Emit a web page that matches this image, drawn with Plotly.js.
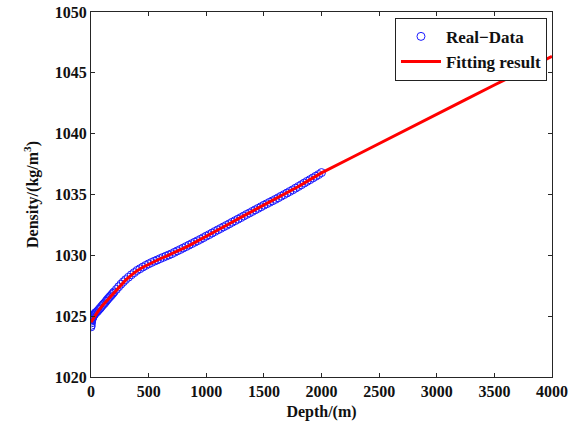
<!DOCTYPE html>
<html>
<head>
<meta charset="utf-8">
<script src="https://cdn.plot.ly/plotly-3.0.1.min.js"></script>
<style>html,body{margin:0;padding:0;background:#fff;}#chart{width:582px;height:422px;}</style>
</head>
<body>
<div id="chart"></div>
<script>
// Real data (depth in m, density in kg/m^3)
const dataDepth = [0,2,4,6,8,10,12,15,20,25,30,35,40,50,60,70,80,90,100,110,120,130,140,150,160,170,180,190,200,220,240,260,280,300,325,350,375,400,425,450,475,500,525,550,575,600,625,650,675,700,725,750,775,800,825,850,875,900,925,950,975,1000,1025,1050,1075,1100,1125,1150,1175,1200,1225,1250,1275,1300,1325,1350,1375,1400,1425,1450,1475,1500,1525,1550,1575,1600,1625,1650,1675,1700,1725,1750,1775,1800,1825,1850,1875,1900,1925,1950,1975,2000];
const dataDensity = [1024.12,1024.25,1024.45,1024.6,1024.7,1024.78,1024.85,1024.92,1025.0,1025.08,1025.15,1025.22,1025.28,1025.35,1025.45,1025.56,1025.66,1025.78,1025.9,1026.0,1026.1,1026.22,1026.34,1026.45,1026.56,1026.66,1026.77,1026.88,1026.99,1027.2,1027.42,1027.63,1027.82,1028.0,1028.2,1028.4,1028.58,1028.76,1028.9,1029.04,1029.17,1029.3,1029.41,1029.52,1029.62,1029.73,1029.83,1029.93,1030.03,1030.13,1030.25,1030.37,1030.48,1030.6,1030.72,1030.84,1030.96,1031.08,1031.2,1031.32,1031.45,1031.58,1031.7,1031.83,1031.96,1032.09,1032.21,1032.34,1032.46,1032.59,1032.72,1032.85,1032.97,1033.1,1033.23,1033.36,1033.48,1033.61,1033.74,1033.86,1033.99,1034.12,1034.24,1034.36,1034.48,1034.6,1034.73,1034.86,1034.99,1035.12,1035.25,1035.38,1035.52,1035.66,1035.8,1035.94,1036.08,1036.22,1036.36,1036.5,1036.64,1036.8];

// Fitting result
const fitDepth = [0,25,50,100,150,200,250,300,350,400,450,500,550,600,650,700,750,800,850,900,950,1000,1100,1200,1300,1400,1500,1600,1700,1800,1900,2000,2250,2500,2750,3000,3250,3500,3750,4000];
const fitDensity = [1024.5,1024.88,1025.25,1025.88,1026.42,1026.95,1027.5,1027.96,1028.38,1028.74,1029.02,1029.27,1029.5,1029.72,1029.92,1030.12,1030.36,1030.58,1030.8,1031.05,1031.3,1031.55,1032.07,1032.6,1033.12,1033.63,1034.12,1034.6,1035.1,1035.66,1036.22,1036.78,1037.98,1039.2,1040.4,1041.6,1042.8,1044.0,1045.15,1046.35];

const xTicks = [0,500,1000,1500,2000,2500,3000,3500,4000];
const yTicks = [1020,1025,1030,1035,1040,1045,1050];

const fontFam = 'Liberation Serif';

const traces = [
  {
    x: dataDepth, y: dataDensity, type: 'scatter', mode: 'markers', name: '<b>Real\u2212Data</b>',
    marker: {symbol: 'circle-open', size: 8, color: '#1a1aff', line: {width: 1, color: '#1a1aff'}}
  },
  {
    x: fitDepth, y: fitDensity, type: 'scatter', mode: 'lines', name: '<b>Fitting result</b>',
    line: {color: '#ff0000', width: 3}
  }
];

const axisCommon = {
  showgrid: false, zeroline: false, showline: true, linecolor: '#262626', linewidth: 1,
  mirror: 'ticks', ticks: 'inside', ticklen: 4, tickcolor: '#262626', tickwidth: 1,
  tickfont: {family: fontFam, size: 16, color: '#111'}
};

const layout = {
  width: 582, height: 422,
  margin: {l: 91, r: 30, t: 12, b: 45, pad: 0},
  paper_bgcolor: '#fff', plot_bgcolor: '#fff',
  font: {family: fontFam, size: 16, color: '#111'},
  showlegend: true,
  xaxis: Object.assign({}, axisCommon, {
    range: [0, 4000], tickvals: xTicks, ticktext: xTicks.map(v => '<b>' + v + '</b>'),
    title: {text: '<b>Depth/(m)</b>', font: {family: fontFam, size: 16, color: '#111'}, standoff: 6}
  }),
  yaxis: Object.assign({}, axisCommon, {
    range: [1020, 1050], tickvals: yTicks, ticktext: yTicks.map(v => '<b>' + v + '</b>'),
    title: {text: '<b>Density/(kg/m<sup>3</sup>)</b>', font: {family: fontFam, size: 16, color: '#111'}, standoff: 12}
  }),
  legend: {
    x: 0.6594, y: 0.984, xanchor: 'left', yanchor: 'top',
    bgcolor: '#fff', bordercolor: '#222', borderwidth: 1,
    font: {family: fontFam, size: 17, color: '#111'},
    itemwidth: 40,
    tracegroupgap: 0
  }
};

Plotly.newPlot('chart', traces, layout, {displayModeBar: false, staticPlot: true});
</script>
</body>
</html>
